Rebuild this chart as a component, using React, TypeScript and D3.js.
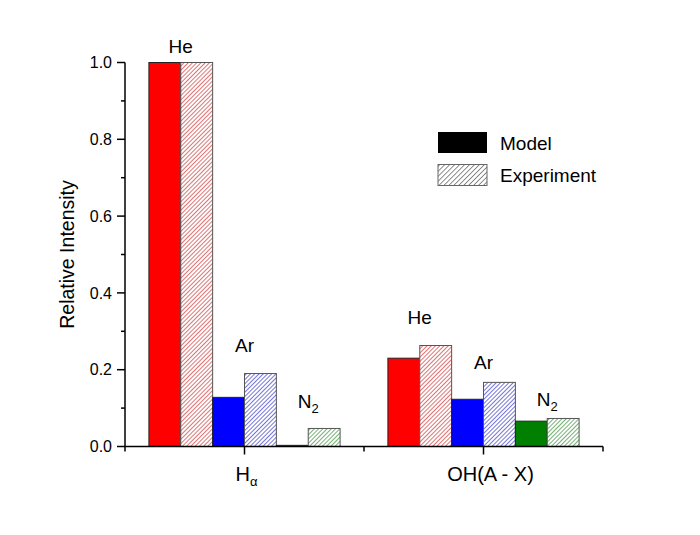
import React from "react";
import * as d3 from "d3";

const categories = ["Hα", "OH(A - X)"];
const gases = ["He", "Ar", "N2"];
const gasColors = ["#ff0000", "#0000ff", "#007f00"];
const hatchColors = ["#d03838", "#3a3ac8", "#3a8f3a"];

// values per gas: [Hα, OH(A - X)]
const heModel = [1.0, 0.23];
const heExperiment = [1.0, 0.263];
const arModel = [0.128, 0.123];
const arExperiment = [0.19, 0.167];
const n2Model = [0.003, 0.066];
const n2Experiment = [0.047, 0.073];

// gas labels above each pair, in data units: [Hα, OH(A - X)]
const labelHe = [1.025, 0.319];
const labelAr = [0.246, 0.202];
const labelN2 = [0.1, 0.105];

const yTicks = [0, 0.2, 0.4, 0.6, 0.8, 1.0];
const yMinorTicks = [0.1, 0.3, 0.5, 0.7, 0.9];

const W = 700;
const H = 535;
const left = 125;
const right = 603;
const top = 62.5;
const bottom = 446.5;
const font = "'Liberation Sans', Arial, sans-serif";

const App: React.FC = () => {
  const x = d3.scaleBand<string>().domain(categories).range([left, right]).paddingInner(0.2).paddingOuter(0.1);
  const y = d3.scaleLinear().domain([0, 1]).range([bottom, top]);

  const models = [heModel, arModel, n2Model];
  const experiments = [heExperiment, arExperiment, n2Experiment];
  const labels = [labelHe, labelAr, labelN2];

  const slots = d3.range(6).map(String);
  const inner = d3.scaleBand<string>().domain(slots).range([0, x.bandwidth()]);
  const bw = inner.bandwidth();

  const bars: React.ReactNode[] = [];
  const texts: React.ReactNode[] = [];
  categories.forEach((cat, ci) => {
    const x0 = x(cat)!;
    gases.forEach((g, gi) => {
      const mx = x0 + inner(String(gi * 2))!;
      const ex = x0 + inner(String(gi * 2 + 1))!;
      const mv = models[gi][ci];
      const ev = experiments[gi][ci];
      bars.push(
        <rect key={`m-${ci}-${gi}`} x={mx} y={y(mv)} width={bw} height={y(0) - y(mv)}
          fill={gasColors[gi]} stroke="#222" strokeWidth={1} />
      );
      bars.push(
        <rect key={`e-${ci}-${gi}`} x={ex} y={y(ev)} width={bw} height={y(0) - y(ev)}
          fill={`url(#hatch-${gi})`} stroke="#555" strokeWidth={1} />
      );
      const cx = mx + bw;
      texts.push(
        <text key={`l-${ci}-${gi}`} x={cx} y={y(labels[gi][ci])} textAnchor="middle"
          fontSize={19} fontFamily={font}>
          {g === "N2" ? (<>N<tspan fontSize={13} dy={5}>2</tspan></>) : g}
        </text>
      );
    });
  });

  const catMid = (c: string) => x(c)! + x.bandwidth() / 2;
  const xMinor = [left, (catMid(categories[0]) + catMid(categories[1])) / 2, right];

  return (
    <svg width={W} height={H} style={{ position: "absolute", left: 0, top: 0, background: "#fff" }}>
      <defs>
        {hatchColors.map((c, i) => (
          <pattern key={i} id={`hatch-${i}`} patternUnits="userSpaceOnUse" width={3} height={3}
            patternTransform="rotate(45)">
            <rect width={3} height={3} fill="#fff" />
            <line x1={0} y1={0} x2={0} y2={3} stroke={c} strokeWidth={1.4} />
          </pattern>
        ))}
        <pattern id="hatch-k" patternUnits="userSpaceOnUse" width={3.5} height={3.5}
          patternTransform="rotate(45)">
          <rect width={3.5} height={3.5} fill="#fff" />
          <line x1={0} y1={0} x2={0} y2={3.5} stroke="#444" strokeWidth={1.2} />
        </pattern>
      </defs>

      {bars}
      {texts}

      {/* y axis */}
      <line x1={left} x2={left} y1={top} y2={bottom} stroke="#000" strokeWidth={1.5} />
      {yTicks.map((t) => (
        <g key={`yt${t}`}>
          <line x1={left - 8} x2={left} y1={y(t)} y2={y(t)} stroke="#000" strokeWidth={1.5} />
          <text x={left - 13} y={y(t)} dy="0.35em" textAnchor="end" fontSize={16} fontFamily={font}>
            {t.toFixed(1)}
          </text>
        </g>
      ))}
      {yMinorTicks.map((t) => (
        <line key={`ym${t}`} x1={left - 4} x2={left} y1={y(t)} y2={y(t)} stroke="#000" strokeWidth={1.5} />
      ))}
      <text transform={`translate(74,${(top + bottom) / 2}) rotate(-90)`} textAnchor="middle"
        fontSize={19.5} fontFamily={font}>Relative Intensity</text>

      {/* x axis */}
      <line x1={left} x2={right} y1={bottom} y2={bottom} stroke="#000" strokeWidth={1.5} />
      {categories.map((c) => (
        <line key={`xt${c}`} x1={catMid(c)} x2={catMid(c)} y1={bottom} y2={bottom + 8} stroke="#000" strokeWidth={1.5} />
      ))}
      {xMinor.map((v, i) => (
        <line key={`xm${i}`} x1={v} x2={v} y1={bottom} y2={bottom + 5} stroke="#000" strokeWidth={1.5} />
      ))}
      <text x={catMid(categories[0]) + 2} y={481} textAnchor="middle" fontSize={20} fontFamily={font}>
        H<tspan fontSize={13} dy={5}>α</tspan>
      </text>
      <text x={catMid(categories[1]) + 7} y={481} textAnchor="middle" fontSize={20} fontFamily={font}>
        {categories[1]}
      </text>

      {/* legend */}
      <rect x={438} y={132} width={49} height={21} fill="#000" />
      <text x={500} y={150} fontSize={19} fontFamily={font}>Model</text>
      <rect x={438} y={164.5} width={49} height={21} fill="url(#hatch-k)" stroke="#666" strokeWidth={1} />
      <text x={500} y={182} fontSize={19} fontFamily={font}>Experiment</text>
    </svg>
  );
};

export default App;
